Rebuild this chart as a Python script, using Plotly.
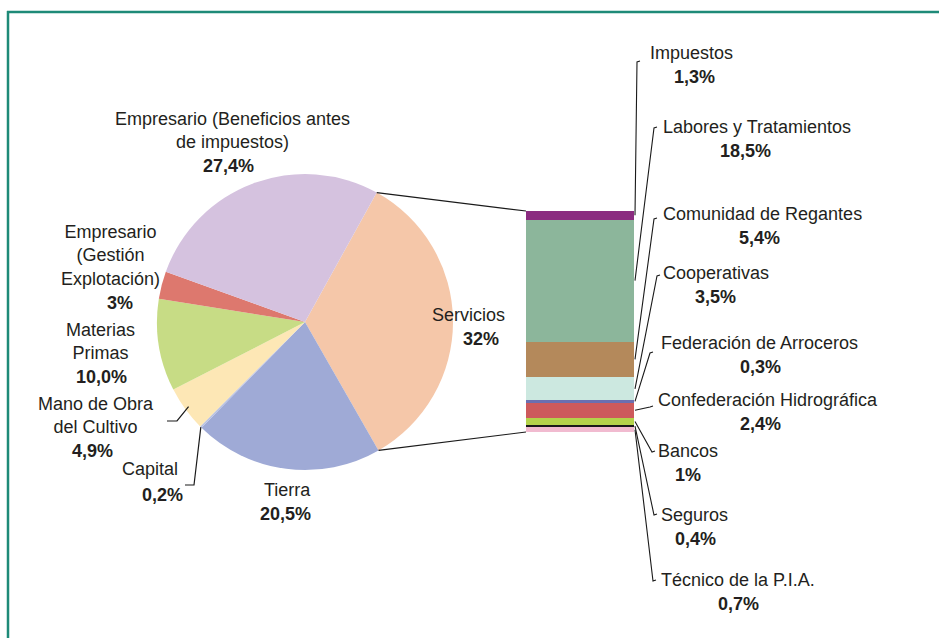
import math
import plotly.graph_objects as go

# ---------------- data ----------------
pie_labels = ["Servicios", "Tierra", "Capital", "Mano de Obra<br>del Cultivo", "Materias<br>Primas",
              "Empresario<br>(Gestión<br>Explotación)", "Empresario (Beneficios antes<br>de impuestos)"]
pie_pct_text = ["32%", "20,5%", "0,2%", "4,9%", "10,0%", "3%", "27,4%"]
pie_other_values = [20.5, 0.2, 4.9, 10.0, 3.0, 27.4]
pie_colors = ["#F5C7A9", "#9FAAD6", "#B7C0E2", "#FDE7B5", "#C7DC85", "#DD786E", "#D5C2DF"]

bar_labels = ["Impuestos", "Labores y Tratamientos", "Comunidad de Regantes", "Cooperativas",
              "Federación de Arroceros", "Confederación Hidrográfica", "Bancos", "Seguros",
              "Técnico de la P.I.A."]
bar_values = [1.3, 18.5, 5.4, 3.5, 0.3, 2.4, 1.0, 0.4, 0.7]
bar_pct_text = ["1,3%", "18,5%", "5,4%", "3,5%", "0,3%", "2,4%", "1%", "0,4%", "0,7%"]
bar_colors = ["#8B2C80", "#8CB69B", "#B4895B", "#CCE8E0", "#6B6FB0", "#CD5A5C", "#B4D34B",
              "#1A1A1A", "#F1BBD0"]

servicios_value = sum(bar_values)
pie_values = [servicios_value] + pie_other_values

# ---------------- layout geometry (pixels) ----------------
W, H = 939, 638
BAR_X0, BAR_X1 = 526, 634
BAR_TOP, BAR_BOTTOM = 211, 432
PIE_CX, PIE_CY, PIE_R = 305, 322, 148
ROTATION = 29
FONT = "Liberation Sans, Arial, sans-serif"
TXT = "#231F20"

total_bar = sum(bar_values)


def vy(p):
    """pixel row -> y-axis value"""
    return total_bar * (BAR_BOTTOM - p) / (BAR_BOTTOM - BAR_TOP)


fig = go.Figure()

fig.add_trace(go.Pie(
    labels=[l.replace("<br>", " ") for l in pie_labels], values=pie_values, sort=False,
    direction="clockwise", rotation=ROTATION, textinfo="none", hoverinfo="label+percent",
    marker=dict(colors=pie_colors, line=dict(width=0)), showlegend=False,
    domain=dict(x=[(PIE_CX - PIE_R) / W, (PIE_CX + PIE_R) / W],
                y=[(H - PIE_CY - PIE_R) / H, (H - PIE_CY + PIE_R) / H]),
))

# stacked bar, bottom item first
for lab, val, col in reversed(list(zip(bar_labels, bar_values, bar_colors))):
    fig.add_trace(go.Bar(x=[(BAR_X0 + BAR_X1) / 2], y=[val], width=[BAR_X1 - BAR_X0], name=lab,
                         marker=dict(color=col, line=dict(width=0)), showlegend=False,
                         hoverinfo="name+y"))

shapes = []
annotations = []


def line(points, width=1.2):
    path = "M " + " L ".join(f"{x},{vy(y)}" for x, y in points)
    shapes.append(dict(type="path", path=path, xref="x", yref="y",
                       line=dict(color="#1a1a1a", width=width)))


def text(x, y, s, bold=False):
    annotations.append(dict(x=x, y=vy(y), xref="x", yref="y", text=f"<b>{s}</b>" if bold else s,
                            showarrow=False, xanchor="center", yanchor="middle",
                            font=dict(family=FONT, size=18, color=TXT)))


# pie geometry helpers
pie_total = sum(pie_values)
angles = []
a = ROTATION
for v in pie_values:
    angles.append((a, a + 360 * v / pie_total))
    a += 360 * v / pie_total


def pie_pt(angle, r=PIE_R):
    rad = math.radians(angle)
    return (PIE_CX + r * math.sin(rad), PIE_CY - r * math.cos(rad))


# connectors pie -> bar
p_top = pie_pt(angles[0][0])
p_bot = pie_pt(angles[0][1])
line([p_top, (BAR_X0, BAR_TOP)])
line([p_bot, (BAR_X0, BAR_BOTTOM)])

# pie labels: (name block centre x, y), (pct x, y)
pie_label_pos = [
    ((468, 315), (481, 339)),
    ((287, 490), (285, 514)),
    ((150, 469), (162, 495)),
    ((96, 415), (92, 450.5)),
    ((100, 341), (101, 376.5)),
    ((110, 255), (120, 302.5)),
    ((232, 130.5), (228, 166)),
]
for lab, pct, (name_pos, pct_pos) in zip(pie_labels, pie_pct_text, pie_label_pos):
    text(name_pos[0], name_pos[1], lab)
    text(pct_pos[0], pct_pos[1], pct, bold=True)

# pie leader lines
mid = lambda i: (angles[i][0] + angles[i][1]) / 2
line([(167, 421), (177, 421), pie_pt(mid(3), PIE_R - 4)])
line([pie_pt(mid(2)), (194, 485), (185, 485)])

# bar labels: name x, name y, pct x, pct y, leader elbow
bar_label_pos = [
    (691, 53, 694, 76.5, (637, 62)),
    (757, 127, 745, 150.5, (654, 128)),
    (762, 214, 759, 237.5, (654, 219)),
    (716, 273, 715, 296.5, (657, 276)),
    (759, 343, 760, 366.5, (650, 353)),
    (768, 400, 760, 423.5, (650, 407)),
    (688, 451, 688, 474.5, (652, 452)),
    (694, 515, 695, 538.5, (654, 515)),
    (738, 580, 738, 604, (653, 581)),
]
for i, (lab, pct, pos) in enumerate(zip(bar_labels, bar_pct_text, bar_label_pos)):
    nx, ny, px, pyy, (ex, ey) = pos
    text(nx, ny, lab)
    text(px, pyy, pct, bold=True)
    below = sum(bar_values[i + 1:])
    mid_val = below + bar_values[i] / 2
    mid_px = BAR_BOTTOM - mid_val / total_bar * (BAR_BOTTOM - BAR_TOP)
    line([(BAR_X1 + 1, mid_px), (ex, ey), (ex + 3, ey - 1)], width=1.1)

# frame lines
shapes.append(dict(type="line", xref="paper", yref="paper", x0=7 / W, x1=1, y0=1 - 12 / H, y1=1 - 12 / H,
                   line=dict(color="#1E8A78", width=2.5)))
shapes.append(dict(type="line", xref="paper", yref="paper", x0=8 / W, x1=8 / W, y0=0, y1=1 - 11 / H,
                   line=dict(color="#1E8A78", width=2.5)))

fig.update_layout(
    width=W, height=H, margin=dict(l=0, r=0, t=0, b=0),
    paper_bgcolor="white", plot_bgcolor="rgba(0,0,0,0)",
    barmode="stack", bargap=0,
    xaxis=dict(range=[0, W], domain=[0, 1], visible=False, fixedrange=True),
    yaxis=dict(range=[vy(H), vy(0)], domain=[0, 1], visible=False, fixedrange=True),
    shapes=shapes, annotations=annotations, showlegend=False,
    font=dict(family=FONT, color=TXT),
)

fig.write_html("out.html", config={"displayModeBar": False},
               post_script="document.body.style.margin='0px';document.body.style.overflow='hidden';")
